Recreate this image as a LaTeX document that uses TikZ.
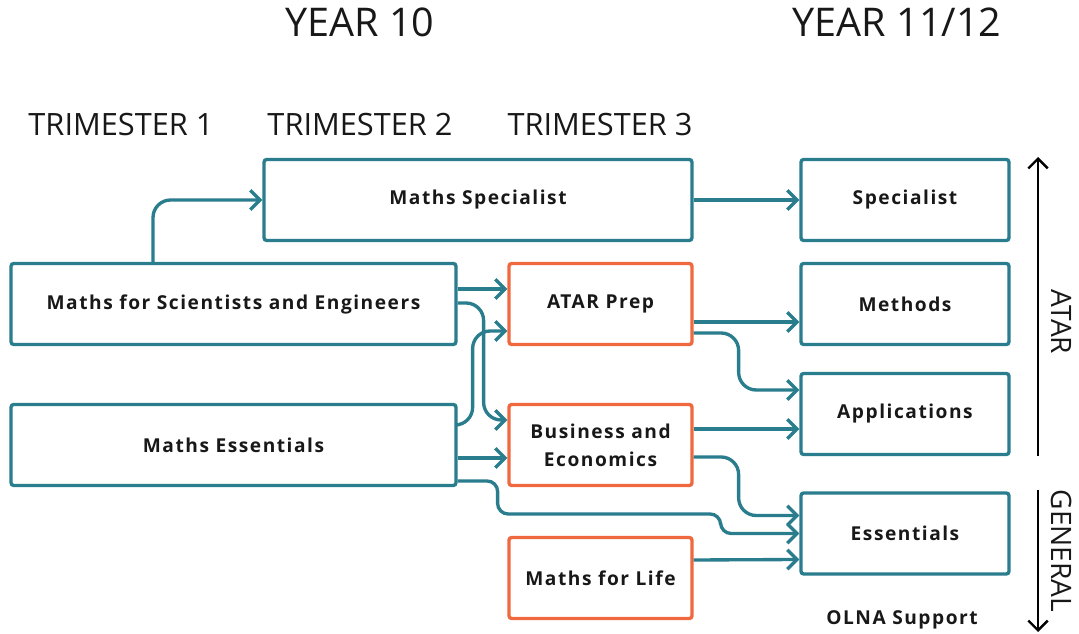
\documentclass[tikz,border=0pt]{standalone}
\usepackage{fontspec}
\setmainfont{Open Sans}
\newfontfamily\boxfont[LetterSpace=8]{Open Sans}
\usetikzlibrary{arrows.meta,calc}
\definecolor{kursblau}{RGB}{42,125,141}
\definecolor{vorkurs}{RGB}{240,104,62}
\definecolor{schrift}{RGB}{24,24,24}

\begin{document}
\begin{tikzpicture}[x=0.02cm, y=-0.02cm, schrift,
    box/.style={draw=kursblau, line width=1.9pt, rounded corners=1.5pt, minimum height=1.62cm, align=center, inner sep=2pt, font=\boxfont\bfseries\fontsize{10.9}{16}\selectfont},
    prepbox/.style={box, draw=vorkurs},
    link/.style={kursblau, line width=1.9pt, rounded corners=10pt, -{Straight Barb[length=5.5pt,width=11pt]}},
    head/.style={font=\fontsize{22.5}{26}\selectfont},
    term/.style={font=\fontsize{17.5}{21}\selectfont},
    side/.style={font=\fontsize{16}{19}\selectfont},
    pathway/.style={black, line width=1.4pt, -{Straight Barb[length=5.5pt,width=11pt]}}]

    \useasboundingbox (0,0) rectangle (1079,634);

    % headings
    \node[head] (year10) at (360,22) {YEAR 10};
    \node[head] (year11) at (897,22) {YEAR 11/12};
    \node[term] (tri1) at (121,125) {TRIMESTER 1};
    \node[term] (tri2) at (360,125) {TRIMESTER 2};
    \node[term] (tri3) at (600,125) {TRIMESTER 3};

    % year 10 courses
    \node[box, minimum width=8.56cm] (mspec) at (478,200) {Maths Specialist};
    \node[box, minimum width=8.9cm] (mse) at (233.5,304) {Maths for Scientists and Engineers};
    \node[box, minimum width=8.9cm] (mess) at (233.5,445) {Maths Essentials};
    \node[prepbox, minimum width=3.66cm] (atar) at (600.5,304) {ATAR Prep};
    \node[prepbox, minimum width=3.66cm] (busi) at (600.5,445) {Business and\\Economics};
    \node[prepbox, minimum width=3.66cm] (life) at (600.5,578) {Maths for Life};

    % year 11/12 courses
    \node[box, minimum width=4.16cm] (special) at (905,200) {Specialist};
    \node[box, minimum width=4.16cm] (methods) at (905,304) {Methods};
    \node[box, minimum width=4.16cm] (appl) at (905,414) {Applications};
    \node[box, minimum width=4.16cm] (ess) at (905,533.5) {Essentials};
    \node[font=\boxfont\bfseries\fontsize{10.9}{13}\selectfont] (olna) at (902,620) {OLNA Support};

    % links
    \draw[link] ($(mse.north)+(-80.5,0)$) |- (mspec.west);
    \draw[link] (mspec.east) -- (special.west);
    \draw[link] ($(mse.east)+(0,-15)$) -- ($(atar.west)+(0,-15)$);
    \draw[link] ($(mse.east)+(0,-1)$) -- ++(26,0) |- ($(busi.west)+(0,-25)$);
    \draw[link] ($(mess.east)+(0,-20)$) -- ++(15,0) |- ($(atar.west)+(0,27)$);
    \draw[link] ($(mess.east)+(0,13)$) -- ($(busi.west)+(0,13)$);
    \draw[link, rounded corners=6pt] ($(mess.east)+(0,36)$) -- ++(40,0) -- ++(0,33) -- ++(223,0) |- (ess.west);
    \draw[link] ($(atar.east)+(0,18)$) -- ($(methods.west)+(0,18)$);
    \draw[link] ($(atar.east)+(0,29)$) -- ++(45,0) |- ($(appl.west)+(0,-24)$);
    \draw[link] ($(busi.east)+(0,-16)$) -- ($(appl.west)+(0,15)$);
    \draw[link] ($(busi.east)+(0,12)$) -- ++(45,0) |- ($(ess.west)+(0,-18)$);
    \draw[link] ($(life.east)+(0,-18)$) -- ($(ess.west)+(0,26)$);

    % pathway markers
    \coordinate (atartop) at (1038,157);
    \coordinate (atarbot) at (1038,456);
    \coordinate (gentop) at (1038,490);
    \coordinate (genbot) at (1038,632);
    \draw[pathway] (atarbot) -- (atartop);
    \draw[pathway] (gentop) -- (genbot);
    \node[side, rotate=-90] (atarlab) at (1062,322) {ATAR};
    \node[side, rotate=-90] (genlab) at (1062,551) {GENERAL};

\end{tikzpicture}
\end{document}
